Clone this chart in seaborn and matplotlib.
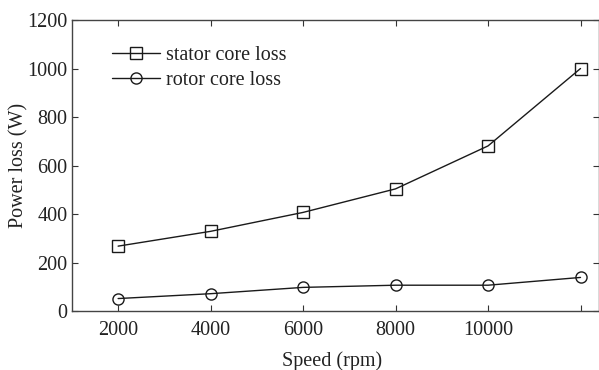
import matplotlib
matplotlib.use('Agg')
import matplotlib.pyplot as plt
import seaborn as sns
import pandas as pd

# values
speed = [2000, 4000, 6000, 8000, 10000, 12000]
stator_loss = [268, 329, 407, 504, 681, 1000]
rotor_loss = [52, 72, 98, 107, 107, 139]
x_ticks = [2000, 4000, 6000, 8000, 10000, 12000]
x_tick_labels = ['2000', '4000', '6000', '8000', '10000', '']
y_ticks = [0, 200, 400, 600, 800, 1000, 1200]

df = pd.DataFrame({
    'speed': speed * 2,
    'loss': stator_loss + rotor_loss,
    'series': ['stator core loss'] * len(speed) + ['rotor core loss'] * len(speed),
})

sns.set_style('ticks')
plt.rcParams['font.family'] = ['Liberation Serif', 'DejaVu Serif']
fs = 14.5

fig = plt.figure(figsize=(5.99, 3.70), dpi=100)
ax = fig.add_axes([0.120, 0.159, 0.880, 0.787])

sns.lineplot(data=df, x='speed', y='loss', style='series', markers={'stator core loss': 's', 'rotor core loss': 'o'},
             dashes=False, color='#1a1a1a', linewidth=1.0, markersize=8, markerfacecolor='none',
             markeredgecolor='#1a1a1a', markeredgewidth=1.0, ax=ax)

ax.set_xlim(1000, 12400)
ax.set_ylim(0, 1200)
ax.set_xticks(x_ticks)
ax.set_xticklabels(x_tick_labels)
ax.set_yticks(y_ticks)
ax.tick_params(direction='in', length=4, width=0.8, color='#333333', labelsize=fs,
               top=True, right=True, labelcolor='#222222')
ax.tick_params(axis='x', pad=7)
ax.tick_params(axis='y', pad=3)
for s in ax.spines.values():
    s.set_color('#444444')
    s.set_linewidth(1.0)

ax.set_xlabel('Speed (rpm)', fontsize=fs, color='#222222', va='baseline')
ax.set_ylabel('Power loss (W)', fontsize=fs, color='#222222', va='baseline')
ax.xaxis.set_label_coords(0.493, -0.19)
ax.yaxis.set_label_coords(-0.091, 0.5)

leg = ax.legend(loc='upper left', bbox_to_anchor=(0.06, 0.938), frameon=False, fontsize=fs,
                handlelength=2.4, handletextpad=0.3, labelspacing=0.3, borderaxespad=0)
for t in leg.get_texts():
    t.set_color('#222222')

fig.savefig('out.png', dpi=100)
